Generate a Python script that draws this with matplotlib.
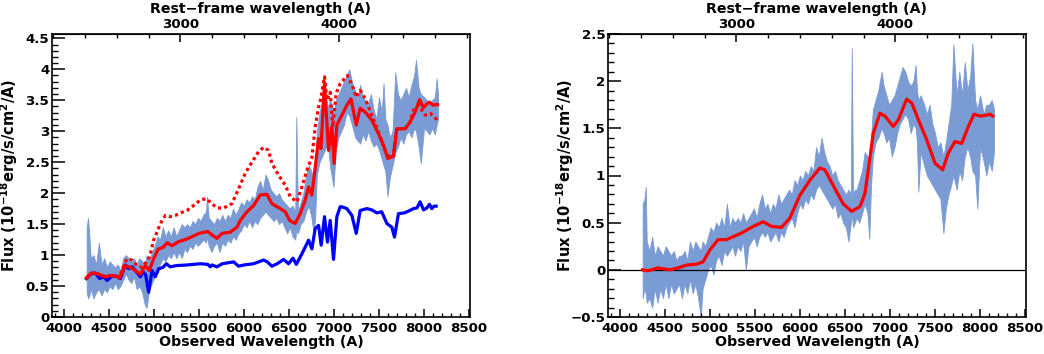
import matplotlib
matplotlib.use("Agg")
import matplotlib.pyplot as plt
from matplotlib.ticker import MultipleLocator, FuncFormatter

plt.rcParams['font.family'] = ['DejaVu Sans']
plt.rcParams['font.weight'] = 'bold'
plt.rcParams['mathtext.fontset'] = 'dejavusans'
plt.rcParams['mathtext.default'] = 'bf'

ONE_PLUS_Z = 1.765

# ---------------- Left panel data ----------------
band_l_wave = [4255, 4270, 4285, 4300, 4330, 4360, 4390, 4420, 4450, 4480, 4510, 4540, 4570, 4600,
               4630, 4660, 4690, 4720, 4750, 4780, 4810, 4840, 4870, 4900, 4920, 4950, 4980, 5010,
               5040, 5070, 5100, 5130, 5160, 5190, 5220, 5250, 5280, 5310, 5340, 5370, 5400, 5430,
               5460, 5490, 5520, 5550, 5580, 5590, 5610, 5640, 5670, 5700, 5730, 5760, 5790, 5820,
               5850, 5880, 5910, 5940, 5970, 6000, 6030, 6060, 6090, 6120, 6150, 6180, 6210, 6240,
               6270, 6300, 6330, 6360, 6390, 6420, 6450, 6480, 6510, 6540, 6570, 6582, 6600, 6630,
               6660, 6690, 6720, 6750, 6770, 6790, 6810, 6840, 6870, 6900, 6930, 6960, 6995, 7020,
               7050, 7080, 7110, 7140, 7170, 7200, 7235, 7260, 7290, 7320, 7350, 7380, 7410, 7440,
               7470, 7500, 7530, 7550, 7570, 7594, 7620, 7650, 7680, 7710, 7740, 7770, 7800, 7830,
               7860, 7890, 7910, 7940, 7964, 8000, 8030, 8060, 8090, 8120, 8140, 8155]
band_l_lo = [0.40, 0.30, 0.35, 0.45, 0.30, 0.40, 0.45, 0.35, 0.45, 0.40, 0.50, 0.45, 0.55, 0.45,
             0.50, 0.60, 0.70, 0.60, 0.55, 0.65, 0.45, 0.50, 0.40, 0.20, 0.15, 0.45, 0.55, 0.65,
             0.80, 0.85, 0.95, 0.90, 1.00, 0.95, 1.05, 0.95, 1.05, 0.95, 1.10, 1.05, 1.15, 1.10,
             1.20, 1.15, 1.20, 1.25, 1.20, 1.30, 1.15, 1.05, 1.15, 1.20, 1.05, 1.20, 1.15, 1.25,
             1.20, 1.30, 1.25, 1.35, 1.40, 1.50, 1.45, 1.55, 1.45, 1.55, 1.50, 1.60, 1.65, 1.70,
             1.65, 1.60, 1.55, 1.60, 1.50, 1.55, 1.45, 1.35, 1.45, 1.30, 1.25, 1.40, 1.35, 1.50,
             1.55, 1.70, 1.80, 1.60, 1.40, 1.55, 2.30, 2.50, 2.60, 2.70, 2.80, 2.40, 2.10, 2.70,
             2.90, 3.00, 3.10, 3.30, 3.25, 3.10, 2.90, 2.85, 2.80, 2.95, 2.85, 3.00, 2.85, 2.75,
             2.80, 2.70, 2.55, 2.45, 2.35, 1.95, 2.25, 2.45, 2.65, 2.75, 2.90, 2.80, 2.95, 3.00,
             2.90, 3.05, 3.00, 2.75, 2.48, 3.05, 3.00, 2.95, 3.05, 2.95, 3.10, 3.20]
band_l_hi = [1.45, 1.60, 1.30, 0.95, 1.00, 0.85, 1.20, 0.85, 0.95, 0.80, 0.90, 0.85, 0.80, 0.85,
             0.75, 0.95, 1.00, 0.95, 0.90, 0.95, 0.85, 0.95, 0.90, 0.85, 1.00, 0.90, 1.05, 1.15,
             1.30, 1.25, 1.45, 1.30, 1.40, 1.30, 1.45, 1.30, 1.40, 1.50, 1.45, 1.50, 1.45, 1.55,
             1.50, 1.60, 1.55, 1.65, 1.70, 1.94, 1.60, 1.55, 1.50, 1.60, 1.55, 1.65, 1.55, 1.65,
             1.60, 1.75, 1.65, 1.75, 1.85, 1.80, 1.90, 1.85, 1.95, 1.90, 2.10, 2.20, 2.05, 2.30,
             2.20, 2.05, 2.00, 1.95, 2.00, 1.90, 1.85, 1.80, 1.75, 1.80, 1.70, 3.23, 1.70, 1.85,
             2.00, 2.30, 2.45, 2.35, 2.20, 2.50, 3.00, 3.30, 3.50, 3.60, 3.40, 3.50, 3.30, 3.50,
             3.60, 3.70, 3.80, 3.90, 4.00, 3.80, 3.65, 3.50, 3.75, 3.55, 3.50, 3.45, 3.60, 3.35,
             3.20, 3.55, 3.30, 3.77, 3.20, 3.10, 2.90, 3.00, 3.95, 3.60, 3.50, 3.60, 3.70, 3.55,
             3.75, 3.90, 4.15, 3.70, 3.60, 3.55, 3.50, 3.45, 3.50, 3.55, 3.85, 3.60]

model_l_wave = [4252, 4297, 4315, 4370, 4426, 4463, 4518, 4573, 4621, 4684, 4740, 4795, 4851, 4906,
                4950, 5000, 5050, 5100, 5150, 5200, 5280, 5350, 5430, 5500, 5600, 5650, 5701, 5757,
                5849, 5923, 5960, 6034, 6108, 6182, 6256, 6311, 6404, 6459, 6507, 6570, 6625, 6681,
                6718, 6755, 6792, 6829, 6855, 6895, 6940, 6977, 7002, 7032, 7088, 7143, 7190, 7247,
                7291, 7346, 7420, 7494, 7550, 7598, 7660, 7697, 7790, 7845, 7901, 7949, 7994, 8030,
                8060, 8100, 8134, 8150]
model_l_flux = [0.63, 0.70, 0.71, 0.70, 0.67, 0.65, 0.67, 0.66, 0.63, 0.83, 0.80, 0.75, 0.69, 0.83,
                0.75, 0.95, 1.10, 1.12, 1.20, 1.15, 1.22, 1.25, 1.30, 1.35, 1.38, 1.32, 1.27, 1.35,
                1.37, 1.45, 1.56, 1.70, 1.80, 1.97, 1.98, 1.83, 1.75, 1.70, 1.56, 1.51, 1.67, 1.89,
                2.10, 1.97, 2.42, 2.88, 2.72, 3.78, 2.69, 3.07, 2.48, 3.10, 3.26, 3.42, 3.52, 3.10,
                3.37, 3.31, 3.18, 2.96, 2.77, 2.56, 2.60, 3.04, 3.04, 3.15, 3.31, 3.51, 3.38, 3.44,
                3.47, 3.42, 3.43, 3.43]

dotted_l_wave = [4252, 4297, 4315, 4370, 4426, 4463, 4518, 4573, 4621, 4700, 4758, 4800, 4870, 4888,
                 4954, 4998, 5036, 5073, 5128, 5183, 5239, 5294, 5368, 5442, 5516, 5583, 5646, 5701,
                 5775, 5867, 5941, 6015, 6089, 6163, 6219, 6274, 6311, 6385, 6459, 6515, 6589, 6644,
                 6700, 6755, 6792, 6829, 6855, 6895, 6922, 6958, 6987, 7024, 7069, 7150, 7200, 7247,
                 7291, 7346, 7420, 7494, 7568, 7624, 7660, 7697, 7790, 7845, 7883, 7938, 8012, 8067,
                 8134, 8150]
dotted_l_flux = [0.63, 0.70, 0.71, 0.70, 0.67, 0.65, 0.67, 0.66, 0.66, 0.94, 0.92, 0.85, 0.80, 0.83,
                 0.97, 1.24, 1.37, 1.51, 1.64, 1.62, 1.64, 1.68, 1.72, 1.80, 1.89, 1.91, 1.83, 1.76,
                 1.76, 1.83, 2.07, 2.32, 2.50, 2.67, 2.74, 2.69, 2.48, 2.29, 2.13, 1.94, 1.86, 2.10,
                 2.37, 2.58, 3.07, 3.39, 3.53, 3.88, 3.50, 3.63, 3.07, 3.61, 3.77, 3.90, 3.75, 3.55,
                 3.66, 3.53, 3.26, 2.99, 2.69, 2.56, 2.60, 3.04, 3.04, 3.15, 3.34, 3.42, 3.26, 3.29,
                 3.20, 3.22]

blue_l_wave = [4252, 4296, 4352, 4399, 4444, 4481, 4537, 4580, 4629, 4684, 4721, 4758, 4795, 4851,
               4880, 4910, 4943, 4980, 5017, 5054, 5100, 5139, 5183, 5250, 5368, 5516, 5600, 5626,
               5646, 5700, 5760, 5886, 5941, 6000, 6108, 6219, 6260, 6311, 6370, 6441, 6496, 6545,
               6582, 6644, 6718, 6755, 6792, 6829, 6858, 6895, 6928, 6958, 6995, 7032, 7069, 7088,
               7143, 7199, 7247, 7291, 7365, 7420, 7476, 7530, 7587, 7642, 7672, 7716, 7780, 7827,
               7883, 7920, 7956, 7994, 8030, 8060, 8086, 8110, 8134]
blue_l_flux = [0.62, 0.69, 0.71, 0.62, 0.65, 0.59, 0.66, 0.66, 0.62, 0.84, 0.78, 0.81, 0.75, 0.65,
               0.73, 0.68, 0.40, 0.75, 0.65, 0.78, 0.80, 0.86, 0.81, 0.83, 0.84, 0.86, 0.85, 0.81,
               0.84, 0.81, 0.86, 0.89, 0.82, 0.84, 0.86, 0.92, 0.89, 0.82, 0.86, 0.93, 0.86, 0.95,
               0.85, 1.02, 1.24, 1.10, 1.43, 1.48, 1.16, 1.62, 1.21, 1.56, 0.93, 1.62, 1.78, 1.78,
               1.75, 1.64, 1.35, 1.72, 1.75, 1.73, 1.68, 1.70, 1.51, 1.45, 1.29, 1.67, 1.68, 1.71,
               1.75, 1.76, 1.86, 1.73, 1.76, 1.82, 1.75, 1.79, 1.79]

# ---------------- Right panel data ----------------
band_r_wave = [4255, 4275, 4289, 4300, 4330, 4360, 4390, 4420, 4450, 4480, 4510, 4540, 4570, 4600,
               4630, 4660, 4690, 4720, 4750, 4780, 4810, 4840, 4870, 4900, 4920, 4950, 4980, 5010,
               5040, 5070, 5100, 5130, 5160, 5190, 5220, 5250, 5280, 5310, 5340, 5370, 5400, 5430,
               5460, 5490, 5520, 5550, 5580, 5610, 5640, 5670, 5700, 5730, 5760, 5790, 5820, 5850,
               5880, 5910, 5940, 5970, 6000, 6030, 6060, 6090, 6120, 6150, 6180, 6210, 6240, 6270,
               6300, 6330, 6360, 6390, 6420, 6450, 6480, 6510, 6540, 6565, 6576, 6590, 6610, 6630,
               6660, 6690, 6720, 6750, 6770, 6790, 6810, 6840, 6870, 6907, 6930, 6960, 6990, 7020,
               7050, 7080, 7110, 7140, 7170, 7200, 7230, 7260, 7285, 7300, 7315, 7340, 7380, 7410,
               7440, 7470, 7500, 7530, 7560, 7593, 7620, 7650, 7680, 7704, 7740, 7770, 7800, 7830,
               7860, 7890, 7915, 7945, 7970, 8000, 8040, 8070, 8100, 8130, 8155]
band_r_lo = [-0.30, -0.20, -0.25, -0.35, -0.30, -0.40, -0.20, -0.35, -0.20, -0.30, -0.15, -0.30,
             -0.15, -0.25, -0.20, -0.15, -0.30, -0.15, -0.25, -0.10, -0.25, -0.15, -0.30, -0.50,
             -0.20, -0.10, 0.00, 0.05, -0.05, 0.10, 0.15, 0.05, 0.20, 0.15, 0.20, 0.25, 0.15, 0.25,
             0.20, 0.30, 0.00, 0.25, 0.30, 0.35, 0.25, 0.35, 0.40, 0.35, 0.40, 0.30, 0.35, 0.40,
             0.30, 0.40, 0.35, 0.45, 0.50, 0.55, 0.45, 0.60, 0.70, 0.65, 0.75, 0.70, 0.80, 0.75,
             0.85, 0.90, 0.85, 0.80, 0.75, 0.70, 0.65, 0.70, 0.55, 0.60, 0.50, 0.45, 0.30, 0.50,
             0.60, 0.45, 0.50, 0.55, 0.50, 0.60, 0.70, 0.60, 0.33, 0.90, 1.20, 1.35, 1.40, 1.50,
             1.45, 1.35, 1.40, 1.20, 1.30, 1.45, 1.55, 1.60, 1.65, 1.60, 1.45, 1.55, 1.50, 1.35,
             0.83, 1.25, 1.10, 1.00, 0.95, 0.90, 0.85, 0.80, 0.75, 0.39, 0.65, 0.80, 0.90, 1.00,
             0.85, 1.05, 0.95, 1.20, 1.30, 1.20, 1.05, 1.00, 0.65, 1.30, 1.15, 1.00, 1.15, 1.05,
             1.25]
band_r_hi = [0.70, 0.75, 0.88, 0.30, 0.20, 0.35, 0.15, 0.25, 0.20, 0.15, 0.25, 0.20, 0.15, 0.20,
             0.10, 0.15, 0.15, 0.20, 0.10, 0.30, 0.20, 0.30, 0.25, 0.20, 0.30, 0.25, 0.35, 0.45,
             0.40, 0.50, 0.45, 0.55, 0.45, 0.70, 0.45, 0.55, 0.50, 0.55, 0.50, 0.60, 0.50, 0.55,
             0.60, 0.65, 0.55, 0.70, 0.80, 0.65, 0.70, 0.60, 0.70, 0.65, 0.80, 0.70, 0.75, 0.80,
             0.85, 0.80, 0.95, 0.90, 1.00, 0.95, 1.05, 1.00, 1.10, 1.05, 1.30, 1.20, 1.40, 1.25,
             1.15, 1.10, 1.00, 1.05, 0.95, 0.90, 0.85, 0.80, 0.85, 0.80, 2.35, 0.80, 0.85, 0.85,
             0.95, 1.05, 1.25, 1.20, 1.10, 1.40, 1.70, 1.80, 1.90, 2.10, 1.95, 1.85, 1.75, 1.80,
             1.85, 1.95, 2.05, 2.15, 2.10, 2.00, 1.95, 2.00, 2.17, 1.90, 1.80, 1.85, 1.75, 1.65,
             1.75, 1.55, 1.45, 1.30, 1.35, 1.20, 1.35, 1.55, 1.75, 2.39, 1.85, 2.10, 1.85, 2.20,
             1.90, 2.05, 2.40, 1.80, 1.70, 1.85, 1.65, 1.75, 1.75, 1.80, 1.70]

model_r_wave = [4252, 4315, 4426, 4556, 4648, 4741, 4852, 4926, 5000, 5093, 5185, 5352, 5481, 5593,
                5685, 5796, 5889, 6000, 6111, 6222, 6278, 6389, 6481, 6574, 6667, 6722, 6759, 6815,
                6889, 6944, 7037, 7093, 7185, 7241, 7333, 7407, 7500, 7585, 7648, 7722, 7796, 7870,
                7933, 8000, 8074, 8111, 8141]
model_r_flux = [0.00, -0.01, 0.02, 0.00, 0.02, 0.05, 0.06, 0.085, 0.21, 0.32, 0.32, 0.39, 0.46, 0.51,
                0.46, 0.45, 0.55, 0.79, 0.95, 1.08, 1.06, 0.86, 0.70, 0.62, 0.67, 0.81, 1.06, 1.45,
                1.66, 1.63, 1.52, 1.59, 1.81, 1.77, 1.55, 1.38, 1.13, 1.06, 1.24, 1.36, 1.34, 1.52,
                1.65, 1.63, 1.64, 1.65, 1.63]

x_ticks = [4000, 4500, 5000, 5500, 6000, 6500, 7000, 7500, 8000, 8500]
xlabel = "Observed Wavelength (A)"
toplabel = "Rest\u2212frame wavelength (A)"
ylabel = r"Flux (10$^{-18}$erg/s/cm$^{2}$/A)"

BAND = '#7b9bd4'
TICK_FS = 9.6
TITLE_FS = 10.2
YLAB_FS = 10.5
W, H = 1044, 354
fig = plt.figure(figsize=(W / 100, H / 100), dpi=100)

ax1 = fig.add_axes([52 / W, 1 - 317 / H, (470 - 52) / W, (317 - 34) / H])
ax2 = fig.add_axes([608 / W, 1 - 317 / H, (1026 - 608) / W, (317 - 34) / H])


def fmt(v, pos):
    s = "%g" % round(v, 3)
    return s.replace('-', '\u2212')


def style(ax, ylo, yhi):
    ax.set_xlim(3870, 8510)
    ax.set_ylim(ylo, yhi)
    ax.set_xticks(x_ticks)
    ax.xaxis.set_minor_locator(MultipleLocator(100))
    ax.yaxis.set_major_locator(MultipleLocator(0.5))
    ax.yaxis.set_minor_locator(MultipleLocator(0.1))
    ax.yaxis.set_major_formatter(FuncFormatter(fmt))
    ax.tick_params(axis='x', which='major', direction='in', length=6, width=1.1,
                   labelsize=TICK_FS, pad=3.5, top=False)
    ax.tick_params(axis='x', which='minor', direction='in', length=3, width=1.0, top=False)
    ax.tick_params(axis='y', which='major', direction='in', length=9, width=1.1,
                   labelsize=TICK_FS, pad=2, right=False)
    ax.tick_params(axis='y', which='minor', direction='in', length=4, width=1.0, right=False)
    for lab in ax.get_xticklabels() + ax.get_yticklabels():
        lab.set_fontweight('bold')
    for sp in ax.spines.values():
        sp.set_linewidth(1.2)
    ax.set_xlabel(xlabel, fontsize=TITLE_FS, fontweight='bold', labelpad=0)
    ax.set_ylabel(ylabel, fontsize=YLAB_FS, fontweight='bold')
    ax.yaxis.set_label_coords(-0.077, 0.5)
    sec = ax.secondary_xaxis('top', functions=(lambda x: x / ONE_PLUS_Z, lambda x: x * ONE_PLUS_Z))
    sec.set_xticks([3000, 4000])
    sec.xaxis.set_minor_locator(MultipleLocator(200))
    sec.tick_params(axis='x', which='major', direction='in', length=6, width=1.1,
                    labelsize=TICK_FS, pad=2.5)
    sec.tick_params(axis='x', which='minor', direction='in', length=3, width=1.0)
    for lab in sec.get_xticklabels():
        lab.set_fontweight('bold')
    sec.set_xlabel(toplabel, fontsize=TITLE_FS, fontweight='bold', labelpad=3)


# Left panel
ax1.fill_between(band_l_wave, band_l_lo, band_l_hi, color=BAND, lw=0.6, edgecolor=BAND, zorder=1)
ax1.plot(blue_l_wave, blue_l_flux, color='#0000ff', lw=2.3, zorder=3, solid_joinstyle='round')
ax1.plot(dotted_l_wave, dotted_l_flux, color='#ff0000', lw=2.3, ls=(0, (1, 1)), zorder=4)
ax1.plot(model_l_wave, model_l_flux, color='#ff0000', lw=2.3, zorder=5, solid_joinstyle='round')
style(ax1, 0, 4.57)

# Right panel
ax2.fill_between(band_r_wave, band_r_lo, band_r_hi, color=BAND, lw=0.6, edgecolor=BAND, zorder=1)
ax2.axhline(0, color='black', lw=0.9, zorder=2)
ax2.plot(model_r_wave, model_r_flux, color='#ff0000', lw=2.3, zorder=5, solid_joinstyle='round')
style(ax2, -0.5, 2.5)

fig.savefig('out.png', dpi=100)
